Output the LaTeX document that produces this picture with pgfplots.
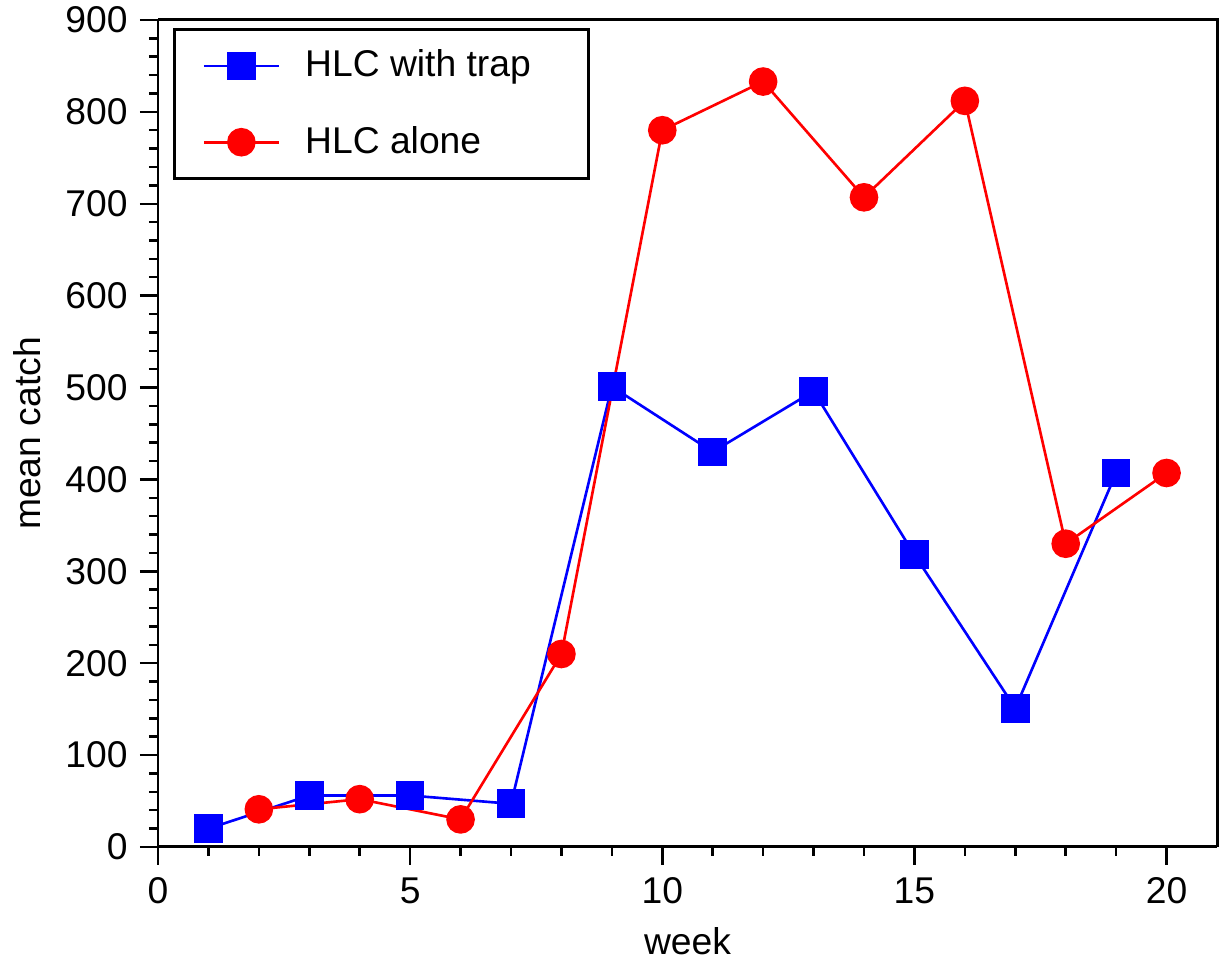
\documentclass[border=0pt]{standalone}
\usepackage{pgfplots}
\pgfplotsset{compat=1.18}
\usepackage{fontspec}
\setmainfont{Liberation Sans}

\begin{document}
\begin{tikzpicture}
\begin{axis}[
    scale only axis,
    width=10.59cm, height=8.27cm,
    xmin=0, xmax=21, ymin=0, ymax=900,
    xtick={0,5,10,15,20},
    ytick={0,100,...,900},
    minor x tick num=4,
    minor y tick num=4,
    tick align=outside,
    axis x line*=bottom, axis y line*=left,
    major tick length=0.18cm,
    minor tick length=0.09cm,
    every tick/.style={black, line width=0.7pt},
    axis line style={line width=0.85pt},
    /pgf/number format/assume math mode=true,
    tick label style={font=\fontsize{10.6}{12.5}\selectfont},
    label style={font=\fontsize{10.6}{12.5}\selectfont},
    xlabel={week}, ylabel={mean catch},
    legend style={at={(0.0142,0.990)}, anchor=north west, draw=black,
        line width=0.85pt, font=\fontsize{10.6}{12.5}\selectfont,
        inner xsep=0.28cm, inner ysep=0.13cm, row sep=0.3cm},
    legend cell align=left,
    legend image code/.code={%
        \draw[mark repeat=2, mark phase=2]
        plot coordinates {(0cm,0cm) (0.375cm,0cm) (0.75cm,0cm)};},
]
\addplot[blue, line width=0.75pt, mark=square*, mark size=3.7pt, mark options={solid}]
 coordinates {(1,20) (3,56) (5,56) (7,47) (9,501) (11,430) (13,496) (15,318) (17,151) (19,407)};
\addlegendentry{\hspace{0.18cm}HLC with trap\rule{0.23cm}{0pt}}
\addplot[red, line width=0.75pt, mark=*, mark size=3.7pt, mark options={solid}]
 coordinates {(2,41) (4,52) (6,30) (8,210) (10,780) (12,833) (14,707) (16,812) (18,330) (20,407)};
\addlegendentry{\hspace{0.18cm}HLC alone}
\end{axis}
\draw[line width=0.85pt] (current axis.south east) -- ++(0,8.27cm) -- ++(-10.59cm,0);
\pgfresetboundingbox
\path[use as bounding box] ([shift={(-1.58cm,-1.14cm)}]current axis.south west)
    rectangle ([shift={(0.04cm,0.2cm)}]current axis.north east);
\end{tikzpicture}
\end{document}
